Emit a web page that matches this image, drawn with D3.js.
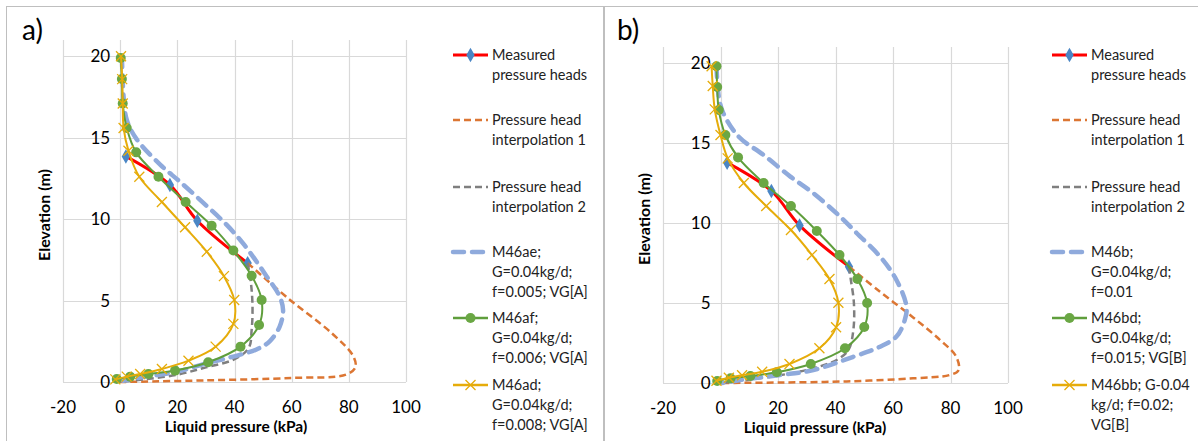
<!DOCTYPE html>
<html>
<head>
<meta charset="utf-8">
<script src="https://cdn.jsdelivr.net/npm/d3@7"></script>
<style>
  body { margin: 0; background: #fff; }
  svg { display: block; font-family: Lato, "Open Sans", sans-serif; }
</style>
</head>
<body>
<script>
// tick values
var xTicks = [-20, 0, 20, 40, 60, 80, 100];
var yTicks = [0, 5, 10, 15, 20];

// panel a) [pressure kPa, elevation m]
var measA = [[2, 13.85], [17.4, 12.1], [27, 9.9], [44.6, 7.3]];
var interp1A = [[44.6, 7.3], [59, 5.1], [74, 3.0], [81.5, 1.6], [82.3, 0.9], [79, 0.45], [60, 0.25], [30, 0.1], [0, 0]];
var interp2A = [[44.6, 7.3], [45.8, 6], [46.3, 4.6], [46, 3.2], [45, 2.1], [40, 1.4], [30, 0.9], [20, 0.45], [8, 0.15], [0, 0]];
var blueA = [[0.6, 20], [1.2, 17.5], [2.3, 16.1], [5.8, 14.9], [14, 13.35], [20.9, 12.3], [29.1, 11.0], [37.2, 9.66],
  [43.5, 8.4], [51.2, 6.5], [55.8, 5.25], [57, 4.4], [55.8, 3.4], [52.3, 2.5], [47.7, 2.0], [39.5, 1.56],
  [30.2, 1.15], [19.8, 0.63], [8, 0.3], [1, 0.08]];
var greenA = [[0.2, 19.9], [0.6, 18.6], [0.9, 17.1], [2.3, 15.6], [5.6, 14.1], [13.4, 12.6], [22.9, 11.05], [32, 9.6],
  [39.6, 8.07], [46, 6.52], [49.5, 5.04], [48.6, 3.5], [42.1, 2.17], [30.8, 1.21], [19.2, 0.7], [9.9, 0.49],
  [3.5, 0.33], [-1.2, 0.18]];
var yellowA = [[0.3, 20], [0.7, 18.6], [0.9, 17.1], [1.2, 15.6], [2.9, 14.2], [6.7, 12.6], [14.6, 11.05], [22.7, 9.5],
  [30.3, 8.0], [36.3, 6.5], [39.9, 5.04], [39.6, 3.57], [33.4, 2.17], [23.9, 1.31], [14.6, 0.8], [7, 0.49],
  [2.3, 0.33], [-1.7, 0.16]];

// panel b)
var measB = [[2.3, 13.77], [17.7, 12.0], [27.5, 9.85], [44.7, 7.27]];
var interp1B = [[44.7, 7.27], [55.5, 5.7], [67, 4.1], [76.3, 2.7], [82, 1.64], [82.8, 0.8], [79.7, 0.5], [67, 0.29], [43.9, 0.1], [20.8, 0.03], [0, 0]];
var interp2B = [[44.7, 7.27], [45.3, 6.5], [46.4, 5], [46.2, 3.3], [44.5, 2.06], [40.4, 1.44], [32.3, 0.92], [24.3, 0.6], [10, 0.2], [0, 0]];
var blueB = [[-1.4, 19.8], [-0.6, 17.9], [0.9, 16.9], [6.3, 15.4], [15, 14.25], [24.3, 12.9], [32.3, 11.86], [41.6, 10.4],
  [47.4, 9.36], [55.5, 7.9], [61.2, 6.44], [64.7, 4.77], [64.1, 3.94], [61.2, 2.9], [55.5, 2.27], [46.2, 1.64],
  [32.3, 0.81], [20.8, 0.5], [6.9, 0.19], [0.7, 0]];
var greenB = [[-1.4, 19.8], [-1.15, 18.5], [-0.6, 17.06], [1.7, 15.5], [6.1, 14.1], [15, 12.5], [24.5, 11.06], [33.5, 9.5],
  [41.4, 8.0], [47.6, 6.5], [51, 5.0], [50, 3.5], [43.3, 2.17], [31.4, 1.19], [19.6, 0.67], [10.4, 0.44],
  [3.5, 0.29], [-1.15, 0.13]];
var yellowB = [[-3.1, 19.8], [-2.7, 18.56], [-2, 17.1], [0, 15.5], [2.5, 14.04], [8.1, 12.5], [15.9, 11.06], [24.5, 9.56],
  [31.8, 8.0], [37.9, 6.5], [41, 5.02], [40.2, 3.48], [34.4, 2.17], [24, 1.19], [14.5, 0.7], [7.5, 0.48],
  [2.9, 0.33], [-1.4, 0.14]];

var legendA = [["Measured", "pressure heads"], ["Pressure head", "interpolation 1"], ["Pressure head", "interpolation 2"],
  ["M46ae;", "G=0.04kg/d;", "f=0.005; VG[A]"], ["M46af;", "G=0.04kg/d;", "f=0.006; VG[A]"], ["M46ad;", "G=0.04kg/d;", "f=0.008; VG[A]"]];
var legendB = [["Measured", "pressure heads"], ["Pressure head", "interpolation 1"], ["Pressure head", "interpolation 2"],
  ["M46b;", "G=0.04kg/d;", "f=0.01"], ["M46bd;", "G=0.04kg/d;", "f=0.015; VG[B]"], ["M46bb; G-0.04", "kg/d; f=0.02;", "VG[B]"]];

var styles = [
  {color: "#ff0000", width: 3, dash: null, marker: "diamond", mcolor: "#4a86c5"},
  {color: "#dc7633", width: 2.5, dash: "7,4", marker: null},
  {color: "#7f7f7f", width: 2.5, dash: "7,4", marker: null},
  {color: "#8faadc", width: 4.5, dash: "11,8", marker: null},
  {color: "#5f9e3c", width: 2, dash: null, marker: "circle", mcolor: "#6aa744"},
  {color: "#e6ac0a", width: 2, dash: null, marker: "cross", mcolor: "#e6ac0a"}
];

var svg = d3.select("body").append("svg").attr("width", 1198).attr("height", 441);

// panel borders
svg.append("rect").attr("x", 6.5).attr("y", 6.5).attr("width", 597).attr("height", 440)
  .attr("fill", "none").attr("stroke", "#bfbfbf");
svg.append("rect").attr("x", 604.5).attr("y", 6.5).attr("width", 600).attr("height", 440)
  .attr("fill", "none").attr("stroke", "#bfbfbf");

function drawMarker(g, type, color, x, y) {
  if (type === "diamond") {
    g.append("path").attr("d", d3.symbol(d3.symbolDiamond, 60)())
      .attr("transform", "translate(" + x + "," + y + ")")
      .attr("fill", color);
  } else if (type === "circle") {
    g.append("circle").attr("cx", x).attr("cy", y).attr("r", 5).attr("fill", color);
  } else if (type === "cross") {
    g.append("path").attr("d", "M-5,-5L5,5M-5,5L5,-5")
      .attr("transform", "translate(" + x + "," + y + ")")
      .attr("stroke", color).attr("stroke-width", 1.3);
  }
}

function panel(opts) {
  var x = d3.scaleLinear().domain([-20, 100]).range([opts.left, opts.right]);
  var y = d3.scaleLinear().domain([0, 21]).range([opts.bottom, opts.top]);
  var g = svg.append("g");

  // grid
  g.selectAll("line.vg").data(xTicks).enter().append("line")
    .attr("x1", function(d) { return Math.round(x(d)) + 0.5; })
    .attr("x2", function(d) { return Math.round(x(d)) + 0.5; })
    .attr("y1", opts.top).attr("y2", opts.bottom)
    .attr("stroke", "#d9d9d9").attr("stroke-width", 1.2);
  g.selectAll("line.hg").data(yTicks).enter().append("line")
    .attr("x1", opts.left).attr("x2", opts.right)
    .attr("y1", function(d) { return Math.round(y(d)) + 0.5; })
    .attr("y2", function(d) { return Math.round(y(d)) + 0.5; })
    .attr("stroke", "#d9d9d9").attr("stroke-width", 1.2);

  // tick labels
  g.selectAll("text.xt").data(xTicks).enter().append("text")
    .attr("x", function(d) { return x(d); }).attr("y", opts.bottom + 31)
    .attr("text-anchor", "middle").attr("font-size", 17).attr("fill", "#000")
    .text(function(d) { return d; });
  g.selectAll("text.yt").data(yTicks).enter().append("text")
    .attr("x", x(0) - 10).attr("y", function(d) { return y(d) + 6; })
    .attr("text-anchor", "end").attr("font-size", 17).attr("fill", "#000")
    .text(function(d) { return d; });

  // axis titles
  g.append("text").attr("x", opts.xTitleX).attr("y", opts.bottom + 50)
    .attr("text-anchor", "middle").attr("font-size", 15.5).attr("font-weight", "bold")
    .text("Liquid pressure (kPa)");
  g.append("text")
    .attr("transform", "translate(" + (opts.left - 13) + "," + ((opts.top + opts.bottom) / 2 + 4) + ") rotate(-90)")
    .attr("text-anchor", "middle").attr("font-size", 16).attr("font-weight", "bold")
    .text("Elevation (m)");

  // panel label
  g.append("text").attr("x", opts.labelX).attr("y", 40).attr("font-size", 28).text(opts.label);

  var line = d3.line()
    .x(function(d) { return x(d[0]); })
    .y(function(d) { return y(d[1]); })
    .curve(d3.curveCatmullRom.alpha(0.5));

  opts.series.forEach(function(s, i) {
    var st = styles[i];
    g.append("path").datum(s).attr("d", line)
      .attr("fill", "none").attr("stroke", st.color).attr("stroke-width", st.width)
      .attr("stroke-dasharray", st.dash)
      .attr("stroke-linecap", i === 3 ? "round" : "butt");
    if (st.marker) {
      var mg = g.append("g");
      s.forEach(function(d) { drawMarker(mg, st.marker, st.mcolor, x(d[0]), y(d[1])); });
    }
  });

  // legend
  var ly = [55, 120, 187, 252, 318, 385];
  opts.legend.forEach(function(lines, i) {
    var st = styles[i];
    var lg = g.append("g");
    var cy = ly[i];
    lg.append("line").attr("x1", opts.legX).attr("x2", opts.legX + 35)
      .attr("y1", cy).attr("y2", cy)
      .attr("stroke", st.color).attr("stroke-width", i === 3 ? 4.5 : (i === 0 ? 3 : 2.5))
      .attr("stroke-dasharray", st.dash)
      .attr("stroke-linecap", i === 3 ? "round" : "butt");
    if (st.marker) drawMarker(lg, st.marker, st.mcolor, opts.legX + 17.5, cy);
    lines.forEach(function(t, j) {
      lg.append("text").attr("x", opts.legX + 39).attr("y", cy + 5 + j * 19.8)
        .attr("font-size", 14.5).attr("fill", "#222").text(t);
    });
  });
}

panel({left: 63, right: 406, top: 40, bottom: 382, label: "a)", labelX: 22, legX: 453, xTitleX: 236, legend: legendA,
  series: [measA, interp1A, interp2A, blueA, greenA, yellowA]});
panel({left: 663, right: 1008, top: 47, bottom: 383, label: "b)", labelX: 617, legX: 1052, xTitleX: 815, legend: legendB,
  series: [measB, interp1B, interp2B, blueB, greenB, yellowB]});
</script>
</body>
</html>
